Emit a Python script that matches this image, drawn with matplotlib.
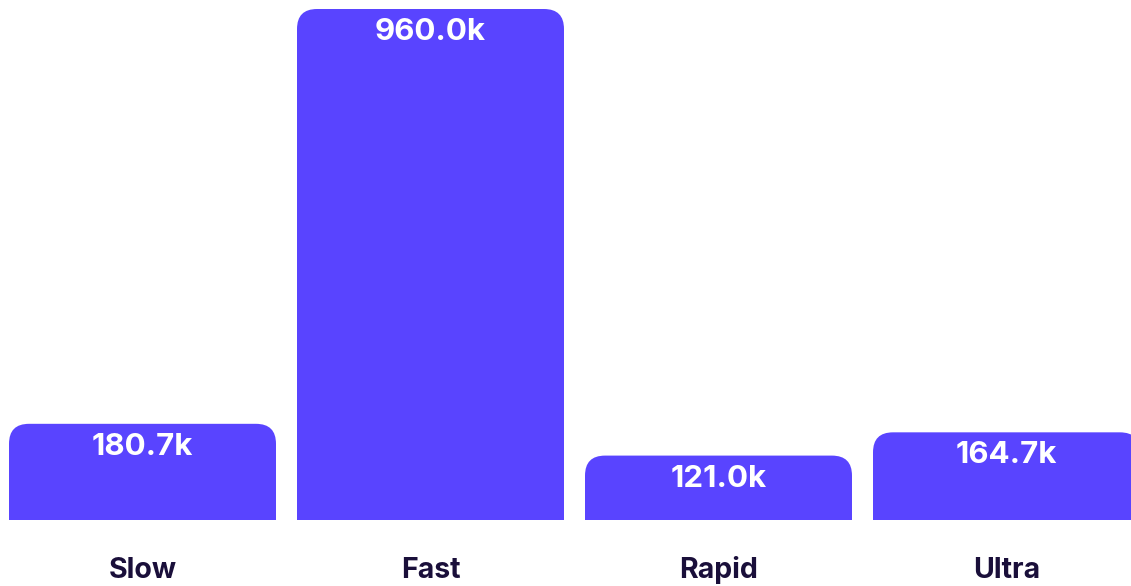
import matplotlib.pyplot as plt
from matplotlib.patches import FancyBboxPatch

categories = ["Slow", "Fast", "Rapid", "Ultra"]
values = [180.7, 960.0, 121.0, 164.7]  # thousands
labels = ["180.7k", "960.0k", "121.0k", "164.7k"]

W, H = 1131, 586
bar_color = "#5944FF"
text_dark = "#1A0F3A"

plt.rcParams['font.family'] = ['Inter', 'DejaVu Sans']

fig = plt.figure(figsize=(W / 100, H / 100), dpi=100)
ax = fig.add_axes([0, 66 / H, 1, 520 / H])

# pixel geometry: slot pitch 288 px, first centre at 142.5 px
pitch = 288.0
x0 = -142.5 / pitch
x1 = (W - 142.5) / pitch
ymax = max(values) * 520 / 511
ax.set_xlim(x0, x1)
ax.set_ylim(0, ymax)
ax.axis("off")

bw = 267 / pitch
rad_px = 20
xpp = 1 / pitch
ypp = ymax / 520
for i, (v, lab) in enumerate(zip(values, labels)):
    left = i - bw / 2
    p = FancyBboxPatch((left, -rad_px * ypp * 2), bw, v + rad_px * ypp * 2,
                       boxstyle=f"round,pad=0,rounding_size={rad_px * xpp}",
                       mutation_aspect=ypp / xpp,
                       facecolor=bar_color, edgecolor="none", clip_on=True)
    ax.add_patch(p)
    ax.annotate(lab, (i, v), xytext=(0, -31 * 0.72), textcoords="offset points",
                ha="center", va="baseline", color="white", fontsize=22.5,
                fontweight="bold")
    ax.annotate(categories[i], (i, 0), xytext=(0, -58 * 0.72), textcoords="offset points",
                ha="center", va="baseline", color=text_dark, fontsize=20.5,
                fontweight="bold", annotation_clip=False)

fig.savefig("out.png", dpi=100)
